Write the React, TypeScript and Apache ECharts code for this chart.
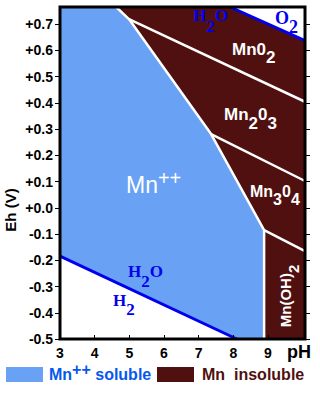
import React, { useEffect, useRef } from 'react';
import * as echarts from 'echarts';

// axis ranges and ticks
const PH_MIN = 3;
const PH_MAX = 10.07;
const EH_MIN = -0.5;
const EH_MAX = 0.765;
const xTicks = [3, 4, 5, 6, 7, 8, 9];
const yTicks = [-0.5, -0.4, -0.3, -0.2, -0.1, 0, 0.1, 0.2, 0.3, 0.4, 0.5, 0.6, 0.7];

// boundaries [pH, Eh]
const mnBoundary = [[4.62, 0.765], [4.99, 0.719], [7.36, 0.281], [8.89, -0.085], [8.89, -0.5]];
const mnO2Mn2O3 = [[4.99, 0.719], [10.07, 0.404]];
const mn2O3Mn3O4 = [[7.36, 0.281], [10.07, 0.102]];
const mn3O4MnOH2 = [[8.89, -0.085], [10.07, -0.165]];
const waterUpper = [[7.91, 0.765], [10.07, 0.637]];
const waterLower = [[3, -0.184], [8.1, -0.5]];

const BLUE = '#69a2f4';
const MAROON = '#501010';
const WATER = '#0000ee';
const SANS = "'Liberation Sans', Arial, Helvetica, sans-serif";
const SERIF = "'Liberation Serif', 'Times New Roman', serif";

const solublePoly = [
  [PH_MIN, EH_MAX],
  ...mnBoundary,
  ...waterLower.slice().reverse(),
];
const insolublePoly = [
  ...waterUpper,
  [PH_MAX, EH_MIN],
  ...mnBoundary.slice().reverse(),
];

function polySeries(pts: number[][], color: string) {
  return {
    type: 'custom',
    data: pts,
    silent: true,
    z: 1,
    renderItem: (params: any, api: any) => {
      if (params.dataIndex !== 0) return null;
      return {
        type: 'polygon',
        shape: { points: pts.map((p) => api.coord(p)) },
        style: { fill: color },
      };
    },
  };
}

function lineSeries(pts: number[][], color: string, width: number) {
  return {
    type: 'line',
    data: pts,
    symbol: 'none',
    silent: true,
    z: 3,
    lineStyle: { color, width },
  };
}

function richText(
  text: string,
  x: number,
  y: number,
  o: { size: number; sub?: number; subPad?: number; supPad?: number; supSize?: number; color: string; family: string; weight: string; align?: string; rotation?: number }
) {
  return {
    type: 'text',
    x,
    y,
    rotation: o.rotation || 0,
    silent: true,
    z: 10,
    style: {
      text,
      x: 0,
      y: 0,
      align: o.align || 'left',
      verticalAlign: 'middle',
      fill: o.color,
      fontSize: o.size,
      fontWeight: o.weight,
      fontFamily: o.family,
      rich: {
        m: { fontSize: o.size, fontWeight: o.weight, fontFamily: o.family, fill: o.color },
        s: { fontSize: o.sub || o.size, fontWeight: o.weight, fontFamily: o.family, fill: o.color, padding: [o.subPad || 0, 0, 0, 0] },
        p: { fontSize: o.supSize || o.size, fontWeight: o.weight, fontFamily: o.family, fill: o.color, padding: [0, 0, o.supPad || 0, 0] },
      },
    },
  };
}

export default function App() {
  const ref = useRef<HTMLDivElement>(null);
  useEffect(() => {
    document.body.style.margin = '0';
    const chart = echarts.init(ref.current!, null, { renderer: 'svg' });
    const axisLabelStyle = { color: '#000', fontWeight: 'bold', fontSize: 14, fontFamily: SANS };
    chart.setOption({
      animation: false,
      backgroundColor: '#fff',
      grid: { left: 60, right: 15, top: 7, bottom: 55, show: true, borderColor: '#000', borderWidth: 3, backgroundColor: 'transparent', z: 5 },
      xAxis: {
        type: 'value',
        min: PH_MIN,
        max: PH_MAX,
        interval: 1,
        axisLine: { show: false, onZero: false },
        splitLine: { show: false },
        axisTick: { show: true, inside: true, length: 4, customValues: xTicks, lineStyle: { color: '#000', width: 1 } },
        axisLabel: { ...axisLabelStyle, fontSize: 14, margin: 7, customValues: xTicks },
        z: 6,
      },
      yAxis: [
        {
          type: 'value',
          min: EH_MIN,
          max: EH_MAX,
          interval: 0.1,
          axisLine: { show: false, onZero: false },
          splitLine: { show: false },
          axisTick: { show: true, length: 5, customValues: yTicks, lineStyle: { color: '#000', width: 1 } },
          axisLabel: {
            ...axisLabelStyle,
            margin: 7,
            customValues: yTicks,
            formatter: (v: number) => (Math.abs(v) < 1e-9 ? '+0.0' : (v > 0 ? '+' : '') + v.toFixed(1)),
          },
        },
        {
          type: 'value',
          position: 'right',
          min: EH_MIN,
          max: EH_MAX,
          interval: 0.1,
          axisLine: { show: false, onZero: false },
          splitLine: { show: false },
          axisTick: { show: true, length: 5, customValues: yTicks, lineStyle: { color: '#000', width: 1 } },
          axisLabel: { show: false },
        },
      ],
      series: [
        polySeries(solublePoly, BLUE),
        polySeries(insolublePoly, MAROON),
        lineSeries(mnBoundary, '#fff', 2.5),
        lineSeries(mnO2Mn2O3, '#fff', 2.5),
        lineSeries(mn2O3Mn3O4, '#fff', 2.5),
        lineSeries(mn3O4MnOH2, '#fff', 2.5),
        lineSeries(waterUpper, WATER, 3),
        lineSeries(waterLower, WATER, 3),
      ],
      graphic: [
        richText('{m|Mn}{p|++}', 126, 185, { size: 23, supSize: 20, supPad: 15, color: '#fff', family: SANS, weight: 'normal' }),
        richText('{m|Mn0}{s|2}', 232, 49, { size: 17, subPad: 16, color: '#fff', family: SANS, weight: 'bold' }),
        richText('{m|Mn}{s|2}{m|0}{s|3}', 224, 114, { size: 17, subPad: 18, color: '#fff', family: SANS, weight: 'bold' }),
        richText('{m|Mn}{s|3}{m|0}{s|4}', 250, 191, { size: 16, subPad: 16, color: '#fff', family: SANS, weight: 'bold' }),
        richText('{m|Mn(OH)}{s|2}', 285, 296, { size: 15, subPad: 16, color: '#fff', family: SANS, weight: 'bold', align: 'center', rotation: Math.PI / 2 }),
        richText('{m|H}{s|2}{m|O}', 193, 15, { size: 17, subPad: 22, color: WATER, family: SERIF, weight: 'bold' }),
        richText('{m|O}{s|2}', 275, 18, { size: 18, subPad: 18, color: WATER, family: SERIF, weight: 'bold' }),
        richText('{m|H}{s|2}{m|O}', 128, 271, { size: 17, subPad: 20, color: WATER, family: SERIF, weight: 'bold' }),
        richText('{m|H}{s|2}', 113, 300, { size: 17, subPad: 18, color: WATER, family: SERIF, weight: 'bold' }),
        richText('Eh (V)', 10, 210, { size: 15, color: '#000', family: SANS, weight: 'bold', align: 'center', rotation: Math.PI / 2 }),
        richText('pH', 287, 351.5, { size: 18, color: '#000', family: SANS, weight: 'bold' }),
        { type: 'rect', shape: { x: 6, y: 367, width: 37, height: 15 }, style: { fill: BLUE }, silent: true },
        richText('{m|Mn}{p|++}{m| soluble}', 49, 374, { size: 16, supPad: 10, color: '#0558ee', family: SANS, weight: 'bold' }),
        { type: 'rect', shape: { x: 157, y: 367, width: 37, height: 15 }, style: { fill: MAROON }, silent: true },
        richText('Mn  insoluble', 202, 374, { size: 16, color: MAROON, family: SANS, weight: 'bold' }),
      ],
    });
    return () => chart.dispose();
  }, []);
  return <div ref={ref} style={{ width: 320, height: 394 }} />;
}
